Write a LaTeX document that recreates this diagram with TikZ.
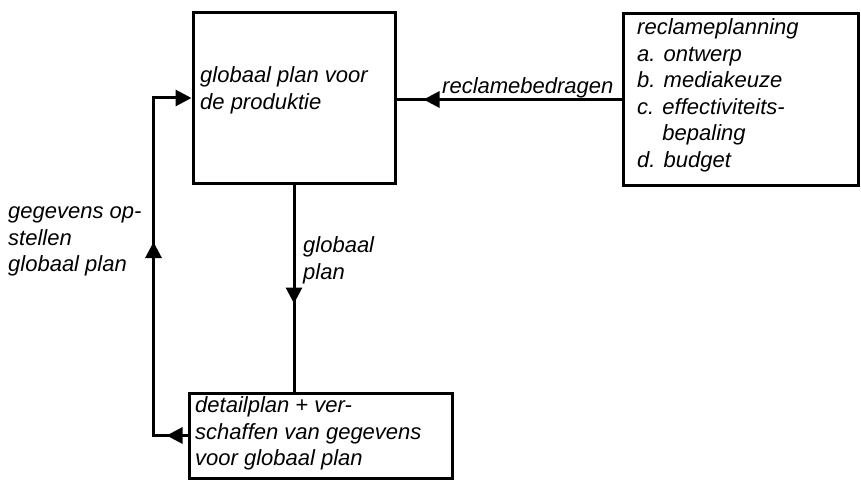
\documentclass[tikz,border=0pt]{standalone}
\usepackage{fontspec}
\setmainfont{Liberation Sans}
\usetikzlibrary{arrows.meta,decorations.markings}

\tikzset{
  >={Triangle[length=16pt,width=16pt]},
  box/.style={draw, line width=3pt, inner sep=0pt},
  txt/.style={anchor=north west, inner sep=0pt, align=left,
    font={\fontsize{22}{26.5}\selectfont\itshape}, execute at begin node=\strut},
  flow/.style={line width=3pt},
  midtip/.style={postaction={decorate},
    decoration={markings, mark=at position #1 with {\arrow{>}}}}
}

\begin{document}
\begin{tikzpicture}[x=1pt,y=1pt]
\useasboundingbox (0,0) rectangle (861,480);

% boxes
\node[box, minimum width=202pt, minimum height=170pt] (glob) at (294,382) {};
\node[box, minimum width=235pt, minimum height=171pt] (rec) at (740.5,380.5) {};
\node[box, minimum width=263pt, minimum height=85pt] (det) at (320.5,44.5) {};

\node[txt] (globtxt) at (200,413.5) {globaal plan voor\\de produktie};
\node[txt] (rectxt) at (637,461.5) {reclameplanning\\a. ontwerp\\b. mediakeuze\\c. effectiviteits-\\\phantom{c. }bepaling\\d. budget};
\node[txt] (dettxt) at (195,83.5) {detailplan \textup{+} ver-\\schaffen van gegevens\\voor globaal plan};

% labels
\node[txt] (lblrec) at (442,405.5) {reclamebedragen};
\node[txt] (lblglob) at (303,243.5) {globaal\\plan};
\node[txt] (lblfb) at (8,273.5) {gegevens op-\\stellen\\globaal plan};

% connectors
\draw[flow, midtip=198pt] (rec.west) -- (rec.west -| glob.east);
\draw[flow, midtip=119pt] (glob.south) -- (glob.south |- det.north);
\draw[flow, ->, postaction={decorate},
  decoration={markings, mark=at position 21pt with {\arrow{>}},
    mark=at position 227.5pt with {\arrow{>}}}]
  (det.west) -- ++(-34pt,0) |- (glob.west);
\end{tikzpicture}
\end{document}
